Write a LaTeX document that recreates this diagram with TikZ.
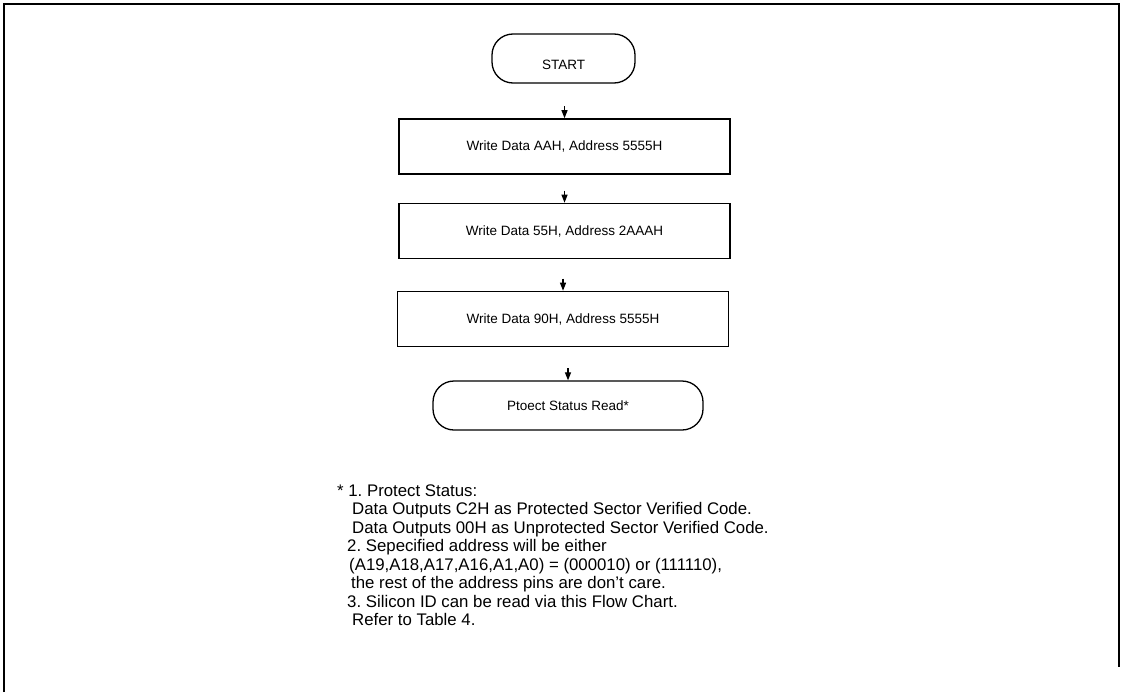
\documentclass[tikz,border=0pt]{standalone}
\usepackage{fontspec}
\setmainfont{Liberation Sans}
\usetikzlibrary{arrows.meta,calc}
\frenchspacing
\begin{document}
\begin{tikzpicture}[x=1pt,y=-1pt,
  proc/.style={draw, line width=1.6pt, minimum width=331pt, minimum height=55pt, inner sep=0pt,
               font=\fontsize{13.5}{16}\selectfont},
  term/.style={draw, line width=1.3pt, rounded corners=21pt, minimum height=49pt, inner sep=0pt,
               font=\fontsize{13.5}{16}\selectfont},
  conn/.style={line width=1.2pt, -{Triangle[length=8pt,width=6pt]}},
  note/.style={anchor=base west, inner sep=0pt, font=\fontsize{16.8}{18.5}\selectfont},
  frame/.style={line width=1.3pt}]
\useasboundingbox (0,0) rectangle (1123,693);
\draw[frame] (4,692) -- (4,4) -- (1119,4) -- (1119,667);

\node[term, minimum width=143pt] (start) at (563.5,58.5) {\raisebox{-10.5pt}[0pt][0pt]{START}};
\node[proc] (b1) at (564.5,146.5) {Write Data AAH, Address 5555H};
\node[proc] (b2) at (564.5,231) {Write Data 55H, Address 2AAAH};
\node[proc] (b3) at (563,319) {Write Data 90H, Address 5555H};
\node[term, minimum width=270pt] (read) at (568,405.5) {Ptoect Status Read*};

\coordinate (c1) at ($(b1.north)+(0,-12)$);
\coordinate (c2) at ($(b2.north)+(0,-12)$);
\coordinate (c3) at ($(b3.north)+(0,-12)$);
\coordinate (c4) at ($(read.north)+(0,-12)$);
\draw[conn] (c1) -- (b1.north);
\draw[conn] (c2) -- (b2.north);
\draw[conn] (c3) -- (b3.north);
\draw[conn] (c4) -- (read.north);

\node[note] (n1) at (337,496) {* 1. Protect Status:};
\node[note] (n2) at (352,514.5) {Data Outputs C2H as Protected Sector Verified Code.};
\node[note] (n3) at (352,533) {Data Outputs 00H as Unprotected Sector Verified Code.};
\node[note] (n4) at (347,551.5) {2. Sepecified address will be either};
\node[note] (n5) at (349,570) {(A19,A18,A17,A16,A1,A0) = (000010) or (111110),};
\node[note] (n6) at (351,588.5) {the rest of the address pins are don't care.};
\node[note] (n7) at (347,607) {3. Silicon ID can be read via this Flow Chart.};
\node[note] (n8) at (352,625.5) {Refer to Table 4.};
\end{tikzpicture}
\end{document}
